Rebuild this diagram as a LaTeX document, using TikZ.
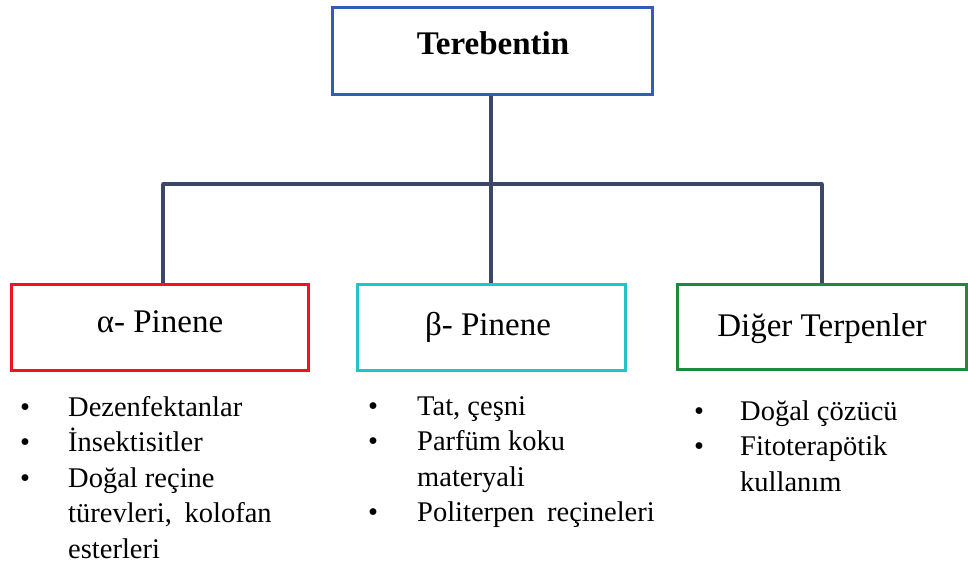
\documentclass[tikz,border=0pt]{standalone}
\usepackage{fontspec}
\setmainfont{Liberation Serif}
\definecolor{topblue}{HTML}{2E5DBA}
\definecolor{alphared}{HTML}{F0141E}
\definecolor{betacyan}{HTML}{22C3CB}
\definecolor{othergreen}{HTML}{1F8A3A}
\definecolor{linkgray}{HTML}{3B4766}
\begin{document}
\begin{tikzpicture}[x=1pt,y=-1pt,
  box/.style={draw, line width=3pt, inner sep=0pt, fill=white},
  title/.style={inner sep=0pt, anchor=base, font=\fontsize{33}{40}\selectfont},
  item/.style={inner sep=0pt, anchor=base west, font=\fontsize{28.5}{35.5}\selectfont},
  dot/.style={inner sep=0pt, anchor=base, font=\fontsize{28.5}{35.5}\selectfont},
  link/.style={draw=linkgray, line width=3.5pt}]
\useasboundingbox (0,0) rectangle (968,564);

% boxes
\node[box, draw=topblue, minimum width=320pt, minimum height=87pt] (top) at (492,51.5) {};
\node[box, draw=alphared, minimum width=297pt, minimum height=86pt] (alpha) at (159.5,327) {};
\node[box, draw=betacyan, minimum width=268pt, minimum height=86pt] (beta) at (491,327) {};
\node[box, draw=othergreen, minimum width=289pt, minimum height=85pt] (other) at (821.5,326.5) {};

% connectors
\coordinate (hub) at (491,184);
\coordinate (jl) at (163,184);
\coordinate (jr) at (822,184);
\draw[link] (top.south -| hub) -- (hub);
\draw[link, line cap=round] (jl) -- (jr);
\draw[link] (jl) -- (jl |- alpha.north);
\draw[link] (hub) -- (hub |- beta.north);
\draw[link] (jr) -- (jr |- other.north);

% box titles
\node[title, font=\fontsize{33}{40}\selectfont\bfseries] (toptext) at (493,55) {Terebentin};
\node[title] (alphatext) at (160,332) {α- Pinene};
\node[title] (betatext) at (488,335) {β- Pinene};
\node[title] (othertext) at (822,336.5) {Diğer Terpenler};

% alpha-pinene uses
\node[dot] (a1d) at (25,416) {•};
\node[item] (a1) at (68,416) {Dezenfektanlar};
\node[dot] (a2d) at (25,451.5) {•};
\node[item] (a2) at (68,451.5) {İnsektisitler};
\node[dot] (a3d) at (25,487) {•};
\node[item] (a3) at (68,487) {Doğal reçine};
\node[item] (a4) at (68,522.5) {türevleri,\hspace{0.45em}kolofan};
\node[item] (a5) at (68,558) {esterleri};

% beta-pinene uses
\node[dot] (b1d) at (373,415) {•};
\node[item] (b1) at (417,415) {Tat, çeşni};
\node[dot] (b2d) at (373,450.5) {•};
\node[item] (b2) at (417,450.5) {Parfüm koku};
\node[item] (b3) at (417,486) {materyali};
\node[dot] (b4d) at (373,521.5) {•};
\node[item] (b4) at (417,521.5) {Politerpen\hspace{0.45em}reçineleri};

% other terpene uses
\node[dot] (c1d) at (699,420) {•};
\node[item] (c1) at (740,420) {Doğal çözücü};
\node[dot] (c2d) at (699,455.5) {•};
\node[item] (c2) at (740,455.5) {Fitoterapötik};
\node[item] (c3) at (740,491) {kullanım};
\end{tikzpicture}
\end{document}
